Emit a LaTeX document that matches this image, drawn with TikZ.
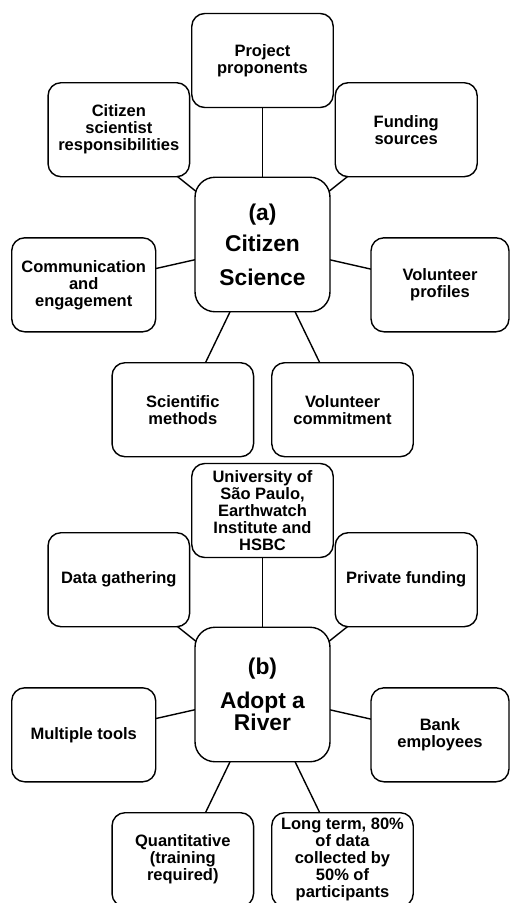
\documentclass[tikz,border=0pt]{standalone}
\usepackage{fontspec}
\setmainfont{Liberation Sans}
\usetikzlibrary{backgrounds}
\begin{document}
\begin{tikzpicture}[x=1pt,y=-1pt,
  leaf/.style={draw=black, line width=1.4pt, fill=white, rounded corners=13pt,
    minimum width=141.5pt, minimum height=94pt, inner sep=0pt, align=center,
    font=\bfseries\fontsize{16.5}{17}\selectfont},
  hub/.style={draw=black, line width=1.4pt, fill=white, rounded corners=20pt,
    minimum width=135pt, minimum height=134.5pt, inner sep=0pt, align=center,
    font=\bfseries\fontsize{22.8}{22}\selectfont},
  link/.style={draw=black, line width=1.4pt}]
\useasboundingbox (0,0) rectangle (510,903);

% ---- (a) Citizen Science ----
\node[hub] (a) at (262.5,244.5) {(a)\\[9pt]Citizen\\[12pt]Science};
\node[leaf] (pp) at (262.5,60.5) {Project\\proponents};
\node[leaf] (csr) at (118.8,129.7) {Citizen\\scientist\\responsibilities};
\node[leaf, minimum width=142pt] (fs) at (406.2,129.7) {Funding\\sources};
\node[leaf, minimum width=144pt] (ce) at (83.7,284.8) {Communication\\and\\engagement};
\node[leaf, minimum width=138pt] (vp) at (440,284.8) {Volunteer\\profiles};
\node[leaf] (sm) at (182.8,409.7) {Scientific\\methods};
\node[leaf] (vc) at (342.5,409.7) {Volunteer\\commitment};

% ---- (b) Adopt a River ----
\node[hub] (b) at (262.5,694.5) {(b)\\[12pt]Adopt a\\[0pt]River};
\node[leaf] (usp) at (262.5,510.5) {University of\\São Paulo,\\Earthwatch\\Institute and\\HSBC};
\node[leaf] (dg) at (118.8,579.7) {Data gathering};
\node[leaf, minimum width=142pt] (pf) at (406.2,579.7) {Private funding};
\node[leaf, minimum width=144pt] (mt) at (83.7,734.8) {Multiple tools};
\node[leaf, minimum width=138pt] (be) at (440,734.8) {Bank\\employees};
\node[leaf] (qt) at (182.8,859.7) {Quantitative\\(training\\required)};
\node[leaf] (lt) at (342.5,859.7) {Long term, 80\%\\of data\\collected by\\50\% of\\participants};

\begin{scope}[on background layer]
  \fill[white] (0,0) rectangle (510,903);
  \foreach \n in {pp,csr,fs,ce,vp,sm,vc}{\draw[link] (a.center) -- (\n.center);}
  \foreach \n in {usp,dg,pf,mt,be,qt,lt}{\draw[link] (b.center) -- (\n.center);}
\end{scope}
\end{tikzpicture}
\end{document}
